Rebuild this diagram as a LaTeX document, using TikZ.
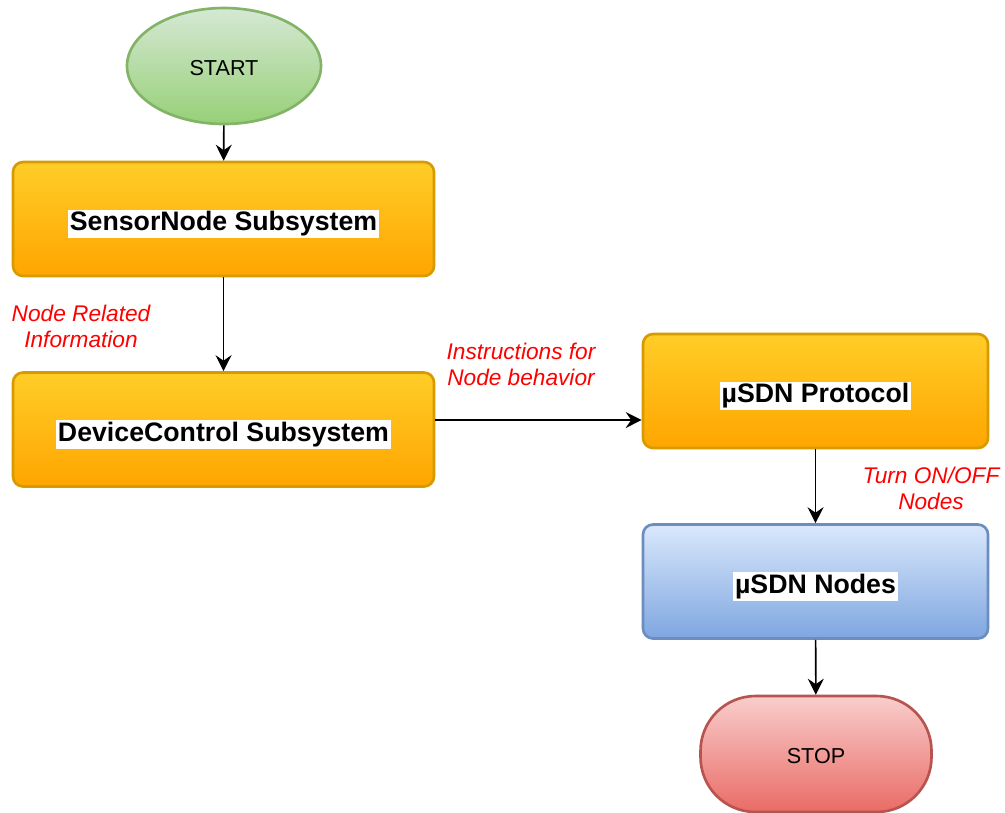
\documentclass[tikz,border=0pt]{standalone}
\usepackage{fontspec}
\setmainfont{Liberation Sans}
\usetikzlibrary{shapes,arrows.meta,positioning,calc}
\definecolor{startTop}{HTML}{D5E8D4}
\definecolor{startBot}{HTML}{97D077}
\definecolor{startLine}{HTML}{82B366}
\definecolor{subTop}{HTML}{FFCD28}
\definecolor{subBot}{HTML}{FFA500}
\definecolor{subLine}{HTML}{D79B00}
\definecolor{nodeTop}{HTML}{DAE8FC}
\definecolor{nodeBot}{HTML}{7EA6E0}
\definecolor{nodeLine}{HTML}{6C8EBF}
\definecolor{stopTop}{HTML}{F8CECC}
\definecolor{stopBot}{HTML}{EA6B66}
\definecolor{stopLine}{HTML}{B85450}
\definecolor{noteRed}{HTML}{FF0000}
\def\hl#1{{\setlength{\fboxsep}{1pt}\colorbox{white}{#1}}}

\tikzset{
  block/.style={rectangle, rounded corners=2mm, line width=1.5pt,
    minimum width=8.42cm, minimum height=2.28cm, inner sep=0pt, text height=6.2mm,
    font=\bfseries\fontsize{15.2}{18}\selectfont},
  subbox/.style={block, draw=subLine, top color=subTop, bottom color=subBot},
  nodebox/.style={block, draw=nodeLine, top color=nodeTop, bottom color=nodeBot},
  terminal/.style={line width=1.5pt, minimum height=2.32cm, text height=4mm,
    font=\fontsize{12.3}{14}\selectfont},
  flow/.style={line width=0.9pt, -{Stealth[length=3.2mm,width=3.2mm,inset=1.1mm]}},
  note/.style={text=noteRed, align=center, font=\itshape\fontsize{12.9}{14.8}\selectfont}
}

\begin{document}
\begin{tikzpicture}[x=0.2mm, y=-0.2mm]

\useasboundingbox (0,0) rectangle (1005,812);

% terminals
\node[terminal, ellipse, draw=startLine, top color=startTop, bottom color=startBot,
  minimum width=3.88cm] (start) at (224,66) {START};
\node[terminal, rectangle, rounded corners=1.1cm, draw=stopLine, top color=stopTop,
  bottom color=stopBot, minimum width=4.62cm] (stop) at (816,754) {STOP};

% subsystems
\node[subbox] (sensor) at (223.5,219) {\hl{SensorNode Subsystem}};
\node[subbox] (devctl) at (223.5,429.5) {\hl{DeviceControl Subsystem}};
\node[subbox, minimum width=6.9cm] (proto) at (815.5,391) {\hl{µSDN Protocol}};
\node[nodebox, minimum width=6.9cm] (usdn) at (815.5,581.5) {\hl{µSDN Nodes}};

% notes
\node[note] (info) at (81,326) {Node Related\\Information};
\node[note] (instr) at (521,364) {Instructions for\\Node behavior};
\node[note] (onoff) at (931,488) {Turn ON/OFF\\Nodes};

% connectors
\coordinate (dcout) at ([yshift=1.9mm]devctl.east);
\draw[flow] (start) -- (sensor);
\draw[flow] (sensor) -- (devctl);
\draw[flow] (dcout) -- (dcout -| proto.west);
\draw[flow] (proto) -- (usdn);
\draw[flow] (usdn) -- (stop);

\end{tikzpicture}
\end{document}
